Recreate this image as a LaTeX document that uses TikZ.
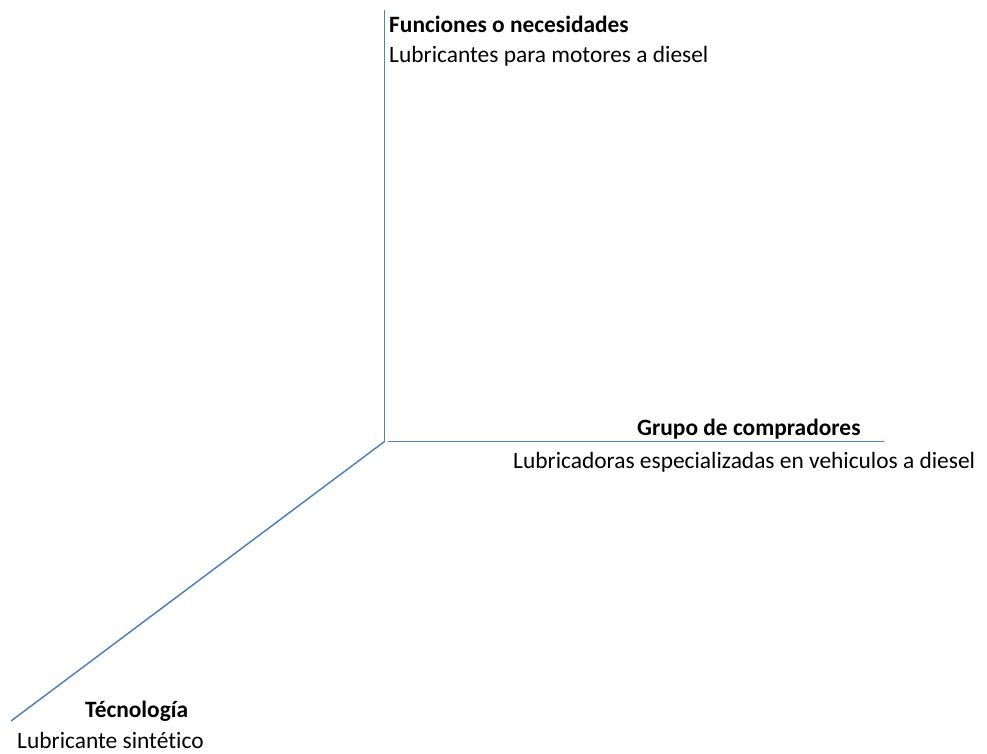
\documentclass[tikz,border=0pt]{standalone}
\usepackage{fontspec}
\setmainfont[Ligatures=NoCommon]{Carlito}
\definecolor{axisblue}{RGB}{79,129,189}
\begin{document}
\begin{tikzpicture}[x=1pt,y=-1pt,
  axis/.style={draw=axisblue,line width=1.5pt},
  lbl/.style={inner sep=0pt,anchor=base west,font=\fontsize{23.4}{28}\selectfont},
  blbl/.style={lbl,font=\fontsize{23.4}{28}\selectfont\bfseries}]
\useasboundingbox (0,0) rectangle (987,753);
\coordinate (top) at (384.5,10);
\coordinate (orig) at (384.5,441.5);
\coordinate (hstart) at (388,441.5);
\coordinate (hend) at (884,441.5);
\coordinate (dend) at (11,721);
\draw[axis] (top) -- (orig);
\draw[axis] (hstart) -- (hend);
\draw[axis] (orig) -- (dend);
\node[blbl] (f1) at (389,32) {Funciones o necesidades};
\node[lbl] (f2) at (389,62) {Lubricantes para motores a diesel};
\node[blbl] (g1) at (637,435) {Grupo de compradores};
\node[lbl] (g2) at (513,468) {Lubricadoras especializadas en vehiculos a diesel};
\node[blbl] (t1) at (85,717) {Técnología};
\node[lbl] (t2) at (17,748) {Lubricante sintético};
\end{tikzpicture}
\end{document}
